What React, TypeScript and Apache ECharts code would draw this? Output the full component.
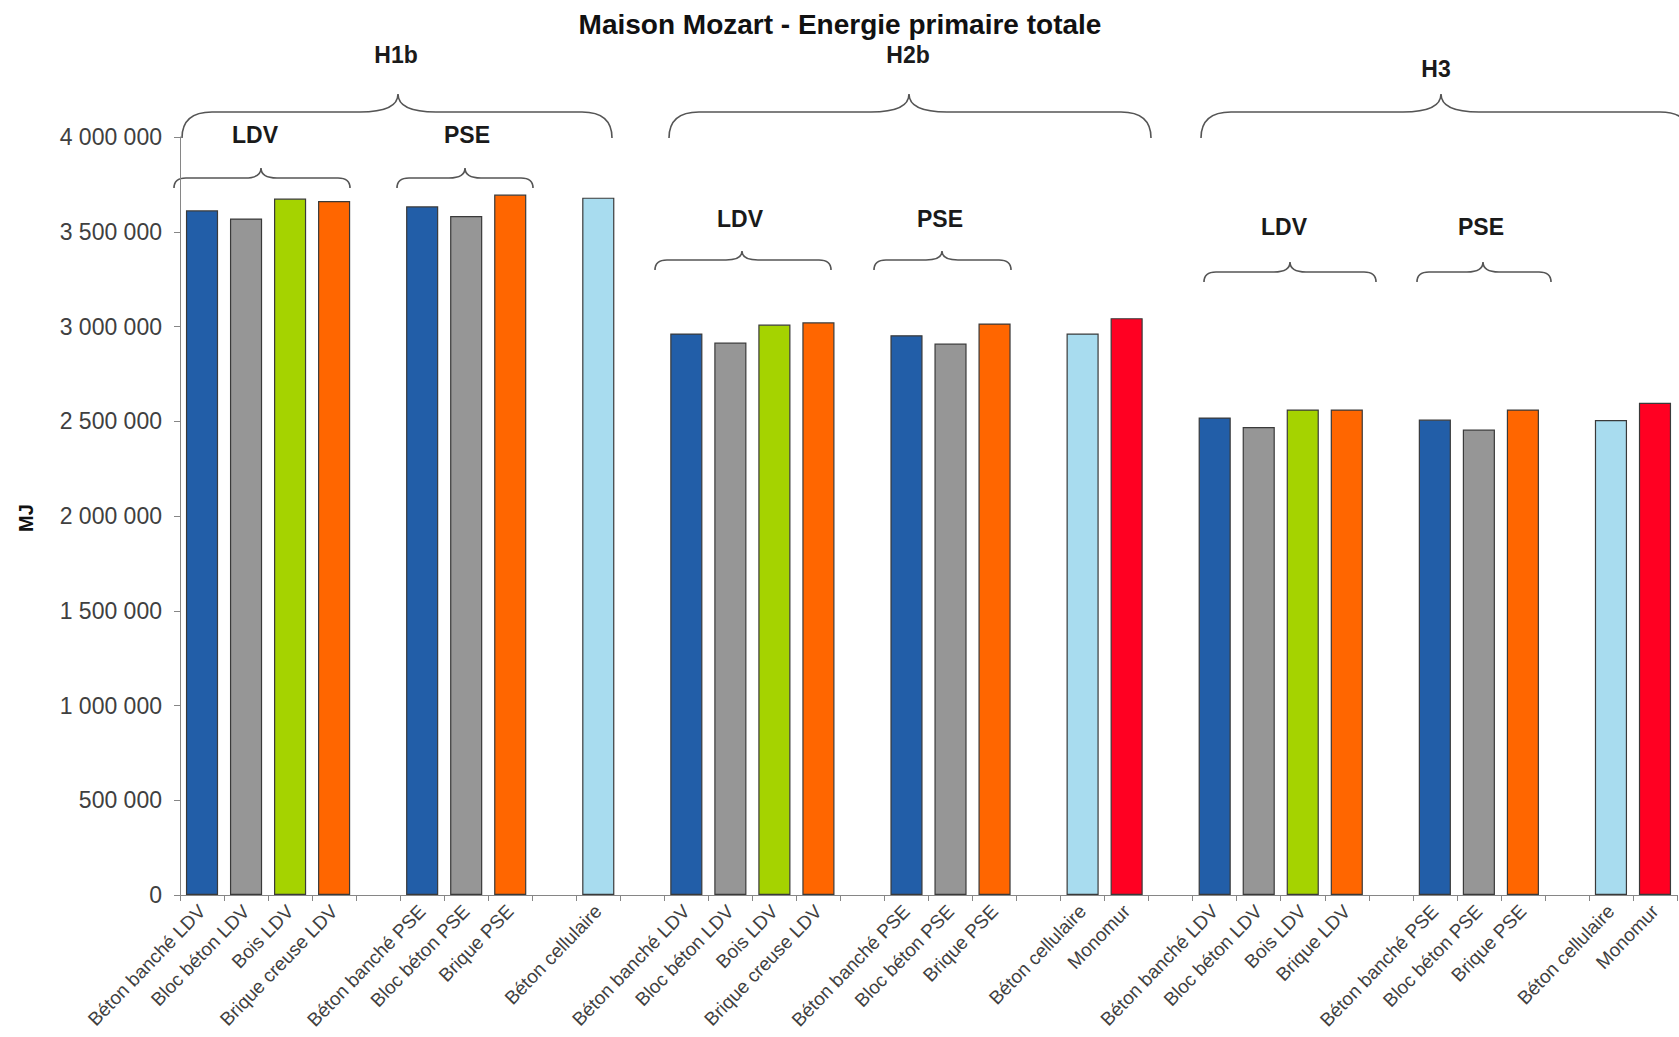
import React, { useEffect, useRef } from "react";
import * as echarts from "echarts";

// ---- Data ----
const h1bCategories = ["Béton banché LDV", "Bloc béton LDV", "Bois LDV", "Brique creuse LDV", "", "Béton banché PSE", "Bloc béton PSE", "Brique PSE", "", "Béton cellulaire", ""];
const h1bValues = [3613000, 3570000, 3675000, 3662000, null, 3634000, 3583000, 3696000, null, 3680000, null];

const h2bCategories = ["Béton banché LDV", "Bloc béton LDV", "Bois LDV", "Brique creuse LDV", "", "Béton banché PSE", "Bloc béton PSE", "Brique PSE", "", "Béton cellulaire", "Monomur", ""];
const h2bValues = [2963000, 2915000, 3010000, 3022000, null, 2954000, 2910000, 3016000, null, 2963000, 3044000, null];

const h3Categories = ["Béton banché LDV", "Bloc béton LDV", "Bois LDV", "Brique LDV", "", "Béton banché PSE", "Bloc béton PSE", "Brique PSE", "", "Béton cellulaire", "Monomur"];
const h3Values = [2520000, 2470000, 2562000, 2562000, null, 2509000, 2456000, 2562000, null, 2506000, 2597000];

const yTicks = [0, 500000, 1000000, 1500000, 2000000, 2500000, 3000000, 3500000, 4000000];

const title = "Maison Mozart - Energie primaire totale";
const yAxisTitle = "MJ";

// ---- Styles ----
const FONT = '"Liberation Sans", Arial, sans-serif';
const AXIS_GRAY = "#868686";
const TEXT_GRAY = "#404040";
const BRACE_COLOR = "#555555";

function colorFor(name: string): string {
  if (name.startsWith("Béton banché")) return "#225EA8";
  if (name.startsWith("Bloc")) return "#969696";
  if (name.startsWith("Bois")) return "#A5D300";
  if (name.startsWith("Brique")) return "#FF6600";
  if (name.startsWith("Béton cellulaire")) return "#A8DCEF";
  if (name.startsWith("Monomur")) return "#FF0022";
  return "#999999";
}

// Annotation braces (pixel positions of the group brackets)
const braces = [
  { id: "h1b", x1: 182, x2: 612, xt: 398, yf: 112, yt: 94, ye: 138, r: 30, s: 38 },
  { id: "h2b", x1: 669, x2: 1151, xt: 909, yf: 112, yt: 94, ye: 138, r: 30, s: 38 },
  { id: "h3", x1: 1201, x2: 1690, xt: 1441, yf: 112, yt: 94, ye: 138, r: 30, s: 38 },
  { id: "h1bldv", x1: 174, x2: 350, xt: 261, yf: 178, yt: 168, ye: 188, r: 12, s: 16 },
  { id: "h1bpse", x1: 397, x2: 533, xt: 465, yf: 178, yt: 168, ye: 188, r: 12, s: 16 },
  { id: "h2bldv", x1: 655, x2: 831, xt: 742, yf: 260, yt: 251, ye: 270, r: 12, s: 16 },
  { id: "h2bpse", x1: 874, x2: 1011, xt: 942, yf: 260, yt: 251, ye: 270, r: 12, s: 16 },
  { id: "h3ldv", x1: 1204, x2: 1376, xt: 1290, yf: 272, yt: 262, ye: 282, r: 12, s: 16 },
  { id: "h3pse", x1: 1417, x2: 1551, xt: 1483, yf: 272, yt: 262, ye: 282, r: 12, s: 16 },
];

const groupLabels = [
  { text: "H1b", x: 396, y: 55 },
  { text: "H2b", x: 908, y: 55 },
  { text: "H3", x: 1436, y: 69 },
  { text: "LDV", x: 255, y: 135 },
  { text: "PSE", x: 467, y: 135 },
  { text: "LDV", x: 740, y: 219 },
  { text: "PSE", x: 940, y: 219 },
  { text: "LDV", x: 1284, y: 227 },
  { text: "PSE", x: 1481, y: 227 },
];

function bracePath(b: any): string {
  const { x1, x2, xt, yf, yt, ye, r, s } = b;
  const rise = yf - yt;
  return [
    `M ${x1} ${ye}`,
    `Q ${x1} ${yf} ${x1 + r} ${yf}`,
    `L ${xt - s} ${yf}`,
    `C ${xt - s * 0.3} ${yf} ${xt} ${yf - rise * 0.35} ${xt} ${yt}`,
    `C ${xt} ${yf - rise * 0.35} ${xt + s * 0.3} ${yf} ${xt + s} ${yf}`,
    `L ${x2 - r} ${yf}`,
    `Q ${x2} ${yf} ${x2} ${ye}`,
  ].join(" ");
}

function fmt(v: number): string {
  return String(v).replace(/\B(?=(\d{3})+(?!\d))/g, " ");
}

export default function App() {
  const ref = useRef<HTMLDivElement>(null);

  useEffect(() => {
    if (!ref.current) return;
    const categories = [...h1bCategories, ...h2bCategories, ...h3Categories];
    const values = [...h1bValues, ...h2bValues, ...h3Values];
    const seriesData = values.map((v, i) =>
      v == null ? "-" : { value: v, itemStyle: { color: colorFor(categories[i]) } }
    );

    braces.forEach((b) => {
      echarts.graphic.registerShape("brace_" + b.id, echarts.graphic.extendPath(bracePath(b), {}));
    });

    const chart = echarts.init(ref.current, null, { renderer: "svg" });
    const graphics: any[] = [];
    braces.forEach((b) => {
      graphics.push({
        type: "brace_" + b.id,
        x: 0,
        y: 0,
        silent: true,
        style: { fill: "none", stroke: BRACE_COLOR, lineWidth: 1.6 },
      });
    });
    groupLabels.forEach((l) => {
      graphics.push({
        type: "text",
        x: l.x,
        y: l.y,
        style: {
          text: l.text,
          font: `bold 23px ${FONT}`,
          fill: "#1a1a1a",
          align: "center",
          verticalAlign: "middle",
          textAlign: "center",
          textVerticalAlign: "middle",
        },
      });
    });
    graphics.push({
      type: "text",
      x: 840,
      y: 24,
      style: {
        text: title,
        font: `bold 28px ${FONT}`,
        fill: "#111111",
        align: "center",
        verticalAlign: "middle",
        textAlign: "center",
        textVerticalAlign: "middle",
      },
    });
    graphics.push({
      type: "text",
      x: 26,
      y: 518,
      rotation: Math.PI / 2,
      style: {
        text: yAxisTitle,
        font: `bold 20px ${FONT}`,
        fill: "#111111",
        align: "center",
        verticalAlign: "middle",
        textAlign: "center",
        textVerticalAlign: "middle",
      },
    });

    chart.setOption({
      animation: false,
      backgroundColor: "#ffffff",
      grid: { left: 180, right: 2, top: 137, bottom: 142, containLabel: false },
      xAxis: {
        type: "category",
        data: categories,
        boundaryGap: true,
        axisLine: { show: true, lineStyle: { color: AXIS_GRAY, width: 1 } },
        axisTick: { show: true, interval: 0, length: 6, lineStyle: { color: AXIS_GRAY } },
        axisLabel: {
          interval: 0,
          rotate: 46,
          margin: 13,
          fontSize: 19,
          fontFamily: FONT,
          color: TEXT_GRAY,
        },
        splitLine: { show: false },
      },
      yAxis: {
        type: "value",
        min: yTicks[0],
        max: yTicks[yTicks.length - 1],
        interval: yTicks[1] - yTicks[0],
        axisLine: { show: true, lineStyle: { color: AXIS_GRAY, width: 1 } },
        axisTick: { show: true, length: 6, lineStyle: { color: AXIS_GRAY } },
        axisLabel: {
          margin: 18,
          fontSize: 23,
          fontFamily: FONT,
          color: TEXT_GRAY,
          formatter: (v: number) => fmt(v),
        },
        splitLine: { show: false },
      },
      series: [
        {
          type: "bar",
          data: seriesData,
          barWidth: "73%",
          itemStyle: { borderColor: "#3a3a3a", borderWidth: 1.2 },
        },
      ],
      graphic: graphics,
    });

    return () => {
      chart.dispose();
    };
  }, []);

  return (
    <div
      ref={ref}
      style={{ position: "fixed", left: 0, top: 0, width: "1679px", height: "1037px", background: "#fff" }}
    />
  );
}
